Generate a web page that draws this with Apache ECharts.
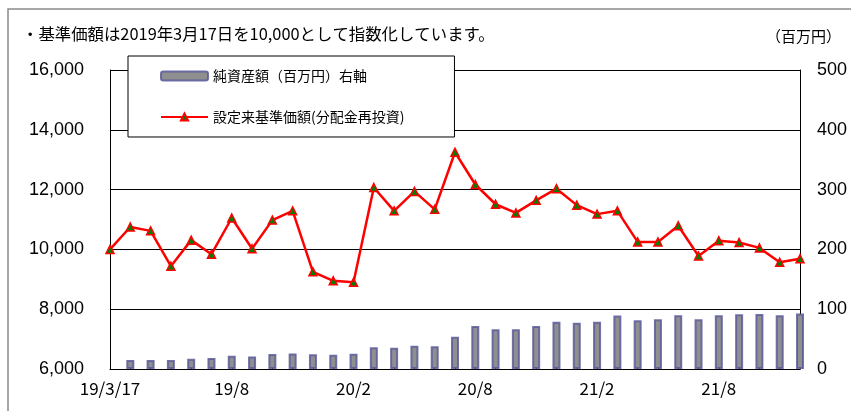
<!DOCTYPE html>
<html>
<head>
<meta charset="utf-8">
<script src="https://cdn.jsdelivr.net/npm/echarts@6/dist/echarts.min.js"></script>
<style>
  html, body { margin: 0; padding: 0; background: #fff; }
  #chart { width: 851px; height: 411px; }
</style>
</head>
<body>
<div id="chart"></div>
<script>
// months: inception day first, then month-ends
const categories = [
  "19/3/17", "19/3", "19/4", "19/5", "19/6", "19/7", "19/8", "19/9", "19/10", "19/11", "19/12",
  "20/1", "20/2", "20/3", "20/4", "20/5", "20/6", "20/7", "20/8", "20/9", "20/10", "20/11", "20/12",
  "21/1", "21/2", "21/3", "21/4", "21/5", "21/6", "21/7", "21/8", "21/9", "21/10", "21/11", "21/12"
];

// 設定来基準価額(分配金再投資), indexed to 10,000
const navIndex = [
  10000, 10750, 10620, 9440, 10310, 9840, 11050, 10020, 10980, 11290, 9250,
  8950, 8900, 12070, 11290, 11940, 11340, 13250, 12170, 11510, 11220, 11640, 12030,
  11480, 11180, 11290, 10250, 10250, 10790, 9780, 10290, 10230, 10050, 9570, 9690
];

// 純資産額(百万円), right axis
const netAssets = [
  null, 15, 15, 15, 17, 18.5, 22, 21, 25, 26, 24.5,
  24, 25.5, 36.5, 35.5, 39, 38, 54, 72, 66.5, 66.5, 72, 79,
  77.5, 79, 89.5, 81.5, 83, 90, 83, 90, 91.5, 92, 90, 93
];

const leftTicks = { min: 6000, max: 16000, step: 2000 };
const rightTicks = { min: 0, max: 500, step: 100 };

const jp = '"Noto Sans CJK JP", sans-serif';
const num = '"Liberation Sans", Arial, sans-serif';

const chart = echarts.init(document.getElementById("chart"));

chart.setOption({
  backgroundColor: "#fff",
  animation: false,
  grid: { left: 110, right: 51, top: 70, bottom: 42 },
  graphic: [
    {
      type: "rect",
      shape: { x: 8, y: 9, width: 900, height: 500 },
      style: { fill: "none", stroke: "#8a8a8a", lineWidth: 1.5 },
      z: -1
    },
    {
      type: "text",
      left: 22, top: 26,
      style: { text: "・基準価額は2019年3月17日を10,000として指数化しています。", font: "16.4px " + jp, fill: "#000" }
    },
    {
      type: "text",
      left: 766, top: 29,
      style: { text: "（百万円）", font: "15px " + jp, fill: "#000" }
    }
  ],
  legend: {
    orient: "vertical",
    left: 128,
    top: 56,
    padding: [13, 50, 13, 32],
    itemGap: 27,
    itemWidth: 47,
    itemHeight: 9,
    backgroundColor: "#fff",
    borderColor: "#000",
    borderWidth: 1,
    borderRadius: 0,
    textStyle: { fontFamily: jp, fontSize: 14, color: "#000" },
    data: ["純資産額（百万円）右軸", "設定来基準価額(分配金再投資)"]
  },
  xAxis: {
    type: "category",
    data: categories,
    boundaryGap: false,
    axisLine: { lineStyle: { color: "#000", width: 1 } },
    axisTick: { show: true, inside: true, length: 4, interval: 0, lineStyle: { color: "#000" } },
    axisLabel: { interval: 5, margin: 11, fontFamily: jp, fontSize: 17, color: "#000" },
    splitLine: { show: false }
  },
  yAxis: [
    {
      type: "value",
      min: leftTicks.min,
      max: leftTicks.max,
      interval: leftTicks.step,
      axisLine: { show: true, lineStyle: { color: "#000" } },
      axisTick: { show: false },
      axisLabel: {
        margin: 26,
        fontFamily: num, fontSize: 18, color: "#000",
        formatter: (v) => v.toLocaleString("en-US")
      },
      splitLine: { show: true, lineStyle: { color: "#000", width: 1 } }
    },
    {
      type: "value",
      position: "right",
      min: rightTicks.min,
      max: rightTicks.max,
      interval: rightTicks.step,
      axisLine: { show: true, lineStyle: { color: "#000" } },
      axisTick: { show: false },
      axisLabel: { margin: 17, fontFamily: num, fontSize: 18, color: "#000" },
      splitLine: { show: false }
    }
  ],
  series: [
    {
      name: "純資産額（百万円）右軸",
      type: "bar",
      yAxisIndex: 1,
      data: netAssets,
      barWidth: 8,
      itemStyle: { color: "#8f8f8f", borderColor: "rgba(90,90,155,0.85)", borderWidth: 2 },
      z: 2
    },
    {
      name: "設定来基準価額(分配金再投資)",
      type: "line",
      yAxisIndex: 0,
      data: navIndex,
      lineStyle: { color: "#ff0000", width: 2.5 },
      itemStyle: { color: "#008000", borderColor: "#ff0000", borderWidth: 1.5 },
      symbol: "triangle",
      symbolSize: 8,
      showSymbol: true,
      z: 3
    }
  ]
});
</script>
</body>
</html>
